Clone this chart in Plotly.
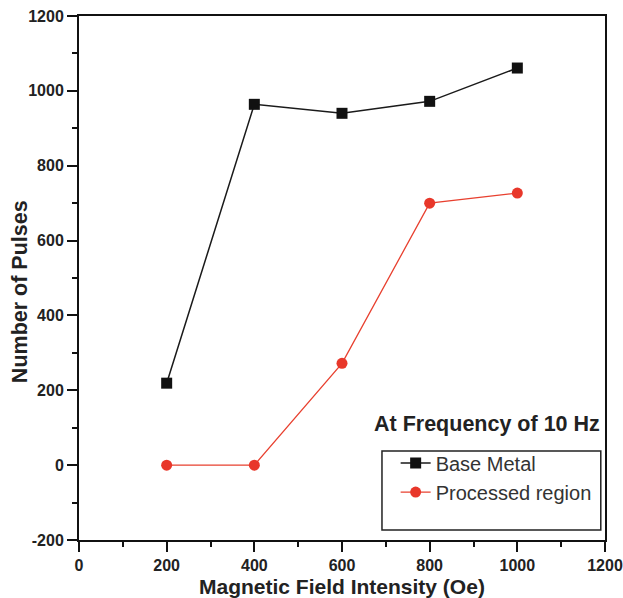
import plotly.graph_objects as go

field = [200, 400, 600, 800, 1000]
base_metal = [219, 964, 940, 972, 1061]
processed = [0, 0, 272, 700, 727]

x_ticks = [0, 200, 400, 600, 800, 1000, 1200]
y_ticks = [-200, 0, 200, 400, 600, 800, 1000, 1200]

x_title = "Magnetic Field Intensity (Oe)"
y_title = "Number of Pulses"
note = "At Frequency of 10 Hz"

font_family = "Liberation Sans, Arial, sans-serif"
txt = "#222222"

fig = go.Figure()
fig.add_trace(go.Scatter(
    x=field, y=base_metal, mode="lines+markers", name="Base Metal",
    line=dict(color="#1a1a1a", width=1.5),
    marker=dict(symbol="square", size=11, color="#111111"),
))
fig.add_trace(go.Scatter(
    x=field, y=processed, mode="lines+markers", name="Processed region",
    line=dict(color="#e8402f", width=1.3),
    marker=dict(symbol="circle", size=11, color="#e8372a"),
))

axis_common = dict(
    showgrid=False, zeroline=False, showline=True, linecolor="#111111", linewidth=2,
    mirror=True, ticks="outside", ticklen=10, tickwidth=2, tickcolor="#111111",
    automargin=False, ticklabeloverflow="allow",
    tickfont=dict(family=font_family, size=16, color=txt, weight="bold"),
    minor=dict(ticks="outside", ticklen=5, tickwidth=2, tickcolor="#111111", showgrid=False),
)

fig.update_xaxes(
    range=[0, 1200], tickvals=x_ticks, ticktext=[str(v) for v in x_ticks],
    minor_dtick=100, minor_tick0=0, **axis_common,
)
fig.update_yaxes(
    range=[-200, 1200], tickvals=y_ticks, ticktext=[str(v) for v in y_ticks],
    minor_dtick=100, minor_tick0=0, **axis_common,
)

# axis titles
fig.add_annotation(
    x=0.5, y=0, xref="paper", yref="paper", xanchor="center", yanchor="middle",
    yshift=-46, text=x_title, showarrow=False,
    font=dict(family=font_family, size=21, color=txt, weight="bold"),
)
fig.add_annotation(
    x=0, y=0.473, xref="paper", yref="paper", xanchor="center", yanchor="middle",
    xshift=-59, textangle=-90, text=y_title, showarrow=False,
    font=dict(family=font_family, size=21.5, color=txt, weight="bold"),
)
fig.add_annotation(
    x=0.557, y=0.221, xref="paper", yref="paper", xanchor="left", yanchor="middle",
    text=note, showarrow=False,
    font=dict(family=font_family, size=21.5, color=txt, weight="bold"),
)

# legend frame
fig.add_shape(
    type="rect", xref="paper", yref="paper",
    x0=0.576, x1=0.992, y0=0.019, y1=0.170,
    line=dict(color="#222222", width=1.5), fillcolor="white", layer="below",
)

fig.update_layout(
    width=623, height=598,
    margin=dict(l=79, r=18, t=16, b=58),
    paper_bgcolor="white", plot_bgcolor="rgba(0,0,0,0)",
    showlegend=True,
    legend=dict(
        x=0.602, y=0.184, xanchor="left", yanchor="top",
        borderwidth=0, bgcolor="rgba(0,0,0,0)",
        font=dict(family=font_family, size=20, color="#333333"),
        itemwidth=30, tracegroupgap=0,
    ),
)

fig.write_html(
    "out.html",
    config={"displayModeBar": False},
    post_script="document.body.style.margin='0';document.body.style.overflow='hidden';",
)
